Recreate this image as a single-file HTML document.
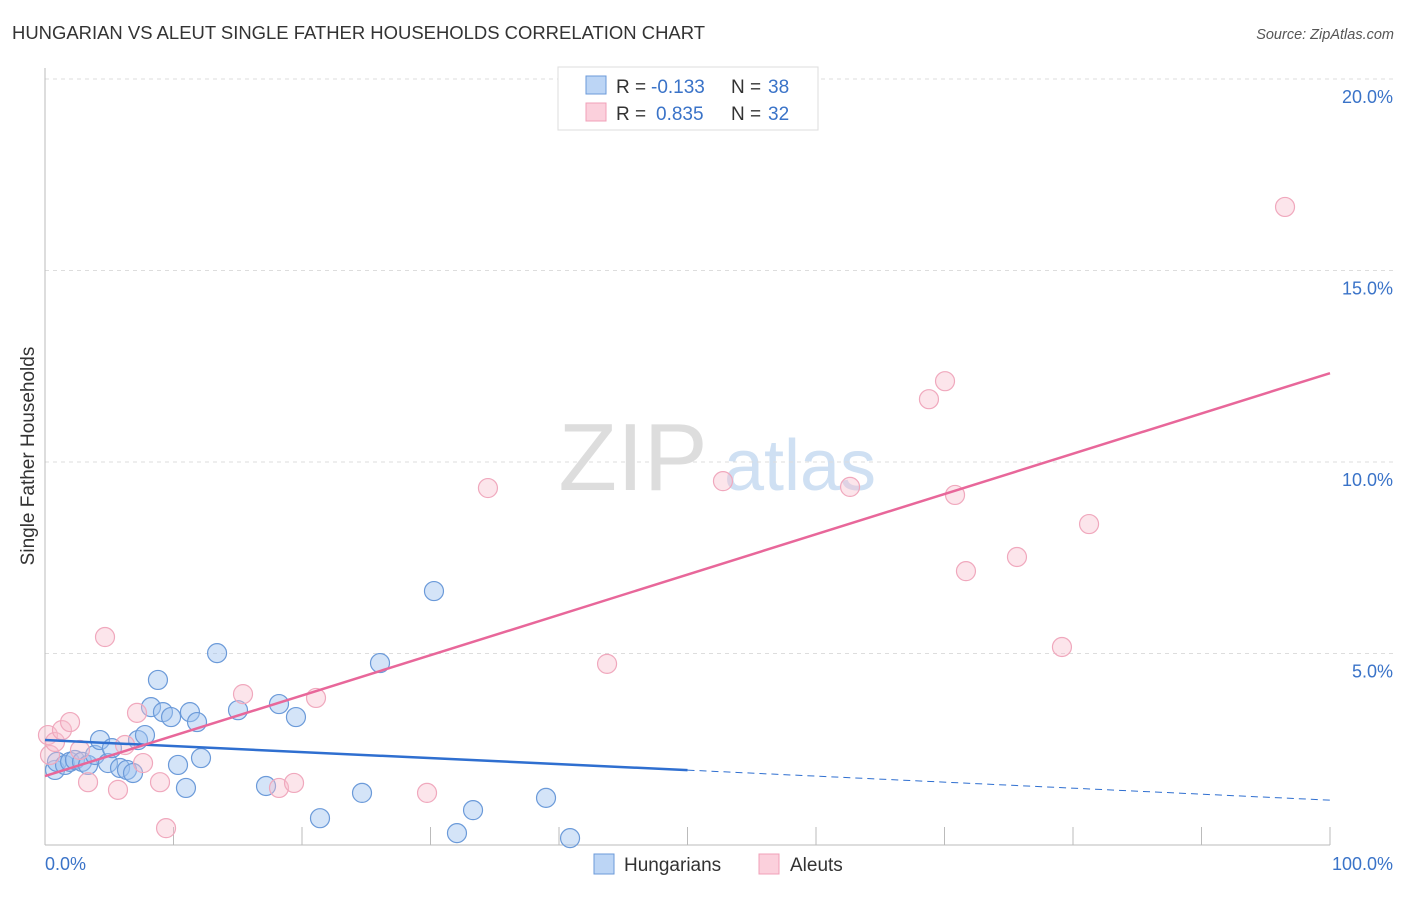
<!DOCTYPE html>
<html><head><meta charset="utf-8"><style>
body{margin:0;background:#fff;font-family:"Liberation Sans",sans-serif;}
svg text{font-family:"Liberation Sans",sans-serif;}
</style></head><body>
<svg id="chart" width="1406" height="892" viewBox="0 0 1406 892" xmlns="http://www.w3.org/2000/svg">
<text x="12" y="39" font-size="18" fill="#333" textLength="693" lengthAdjust="spacingAndGlyphs">HUNGARIAN VS ALEUT SINGLE FATHER HOUSEHOLDS CORRELATION CHART</text>
<text x="1394" y="39" font-size="14.5" fill="#555" font-style="italic" text-anchor="end">Source: ZipAtlas.com</text>
<g>
<text x="633" y="490" font-size="96" fill="#ddd" font-family="Liberation Serif,serif" text-anchor="middle">ZIP</text>
<text x="800" y="490" font-size="72" fill="#cfe0f3" text-anchor="middle">atlas</text>
</g>
<g id="grid"></g>
<g id="axes"></g>
<g id="pts"></g>
<g id="lines"></g>
<text transform="translate(34,456) rotate(-90)" font-size="19" fill="#333" text-anchor="middle">Single Father Households</text>
<text x="45" y="870" font-size="18" fill="#3a73c8">0.0%</text>
<text x="1393" y="870" font-size="18" fill="#3a73c8" text-anchor="end">100.0%</text>
<g>
<rect x="558" y="67" width="260" height="63" fill="#fff" stroke="#ddd"/>
<rect x="586" y="76" width="20" height="18" fill="#bcd5f5" stroke="#6b9ad9"/>
<rect x="586" y="103" width="20" height="18" fill="#fbd0dc" stroke="#f0a0b8"/>
<text x="616" y="93" font-size="19" fill="#333">R =</text>
<text x="651" y="93" font-size="19" fill="#3a73c8">-0.133</text>
<text x="731" y="93" font-size="19" fill="#333">N =</text>
<text x="768" y="93" font-size="19" fill="#3a73c8">38</text>
<text x="616" y="120" font-size="19" fill="#333">R =</text>
<text x="656" y="120" font-size="19" fill="#3a73c8">0.835</text>
<text x="731" y="120" font-size="19" fill="#333">N =</text>
<text x="768" y="120" font-size="19" fill="#3a73c8">32</text>
</g>
<g>
<rect x="594" y="854" width="20" height="20" fill="#bcd5f5" stroke="#6b9ad9"/>
<text x="624" y="871" font-size="19" fill="#333">Hungarians</text>
<rect x="759" y="854" width="20" height="20" fill="#fbd0dc" stroke="#f0a0b8"/>
<text x="790" y="871" font-size="19" fill="#333">Aleuts</text>
</g>
</svg>
<script>
const yTicks=[5,10,15,20];
const yTickLabels=["5.0%","10.0%","15.0%","20.0%"];
const blueX=[0.78,0.93,1.56,1.95,2.33,2.88,3.35,3.89,4.28,4.9,5.21,5.84,6.38,6.85,7.24,7.78,8.25,8.79,9.18,9.81,10.35,10.97,11.28,11.83,12.14,13.39,15.02,17.2,18.21,19.53,21.4,24.67,26.07,30.27,32.06,33.31,38.99,40.86];
const blueY=[1.96,2.17,2.09,2.17,2.22,2.17,2.09,2.35,2.74,2.14,2.53,2.01,1.96,1.88,2.74,2.87,3.60,4.31,3.47,3.34,2.09,1.49,3.47,3.21,2.27,5.01,3.52,1.54,3.68,3.34,0.70,1.36,4.75,6.63,0.31,0.91,1.23,0.18];
const pinkX=[0.23,0.39,0.78,1.32,1.95,2.72,3.35,4.67,5.68,6.23,7.16,7.63,8.95,9.42,15.41,18.21,19.38,21.09,29.73,34.47,43.74,52.76,62.65,68.79,70.04,70.82,71.67,75.64,79.14,81.25,96.5];
const pinkY=[2.87,2.35,2.69,3.00,3.21,2.48,1.64,5.43,1.44,2.61,3.45,2.14,1.64,0.44,3.94,1.49,1.62,3.84,1.36,9.32,4.73,9.50,9.35,11.64,12.11,9.14,7.15,7.52,5.17,8.38,16.66];
const blueTrend=[2.74,1.17];
const pinkTrend=[1.80,12.32];
const NS="http://www.w3.org/2000/svg";
const X0=45,X1=1330,Y0=845,PXPER=38.3;
function sx(v){return X0+(X1-X0)*v/100;}
function sy(v){return Y0-v*PXPER;}
function mk(tag,attrs,parent){const e=document.createElementNS(NS,tag);for(const k in attrs)e.setAttribute(k,attrs[k]);parent.appendChild(e);return e;}
const grid=document.getElementById('grid');
yTicks.forEach((t,i)=>{
 const l=mk('line',{x1:X0,x2:1395,y1:sy(t),y2:sy(t),stroke:'#ddd','stroke-dasharray':'4,4'},grid);
 
 
 const tx=mk('text',{x:1393,y:sy(t)+24,'font-size':18,fill:'#3a73c8','text-anchor':'end'},grid);
 tx.textContent=yTickLabels[i];
 
 
});
const ax=document.getElementById('axes');
const a1=mk('line',{x1:X0,x2:X0,y1:68,y2:Y0,stroke:'#bbb'},ax);


const a2=mk('line',{x1:X0,x2:X1,y1:Y0,y2:Y0,stroke:'#bbb'},ax);


for(let i=0;i<=10;i++){
 const t=mk('line',{x1:sx(i*10),x2:sx(i*10),y1:827,y2:Y0,stroke:'#bbb'},ax);
 
 
}
const pts=document.getElementById('pts');
blueX.forEach((x,i)=>{
 const c=mk('circle',{cx:sx(x),cy:sy(blueY[i]),r:9.5,fill:'rgba(160,195,240,0.45)',stroke:'#6b9ad9','stroke-width':1.2},pts);
 
 
});
pinkX.forEach((x,i)=>{
 const c=mk('circle',{cx:sx(x),cy:sy(pinkY[i]),r:9.5,fill:'rgba(248,190,205,0.4)',stroke:'#f0a8bd','stroke-width':1.2},pts);
 
 
});
const lg=document.getElementById('lines');
function ty(tr,x){return tr[0]+(tr[1]-tr[0])*x/100;}
const b1=mk('line',{x1:sx(0),y1:sy(ty(blueTrend,0)),x2:sx(50),y2:sy(ty(blueTrend,50)),stroke:'#2f6fd0','stroke-width':2.5},lg);


const b2=mk('line',{x1:sx(50),y1:sy(ty(blueTrend,50)),x2:sx(100),y2:sy(ty(blueTrend,100)),stroke:'#2f6fd0','stroke-width':1,'stroke-dasharray':'7,5'},lg);


const p1=mk('line',{x1:sx(0),y1:sy(ty(pinkTrend,0)),x2:sx(100),y2:sy(ty(pinkTrend,100)),stroke:'#e8679a','stroke-width':2.5},lg);


</script>
</body></html>
